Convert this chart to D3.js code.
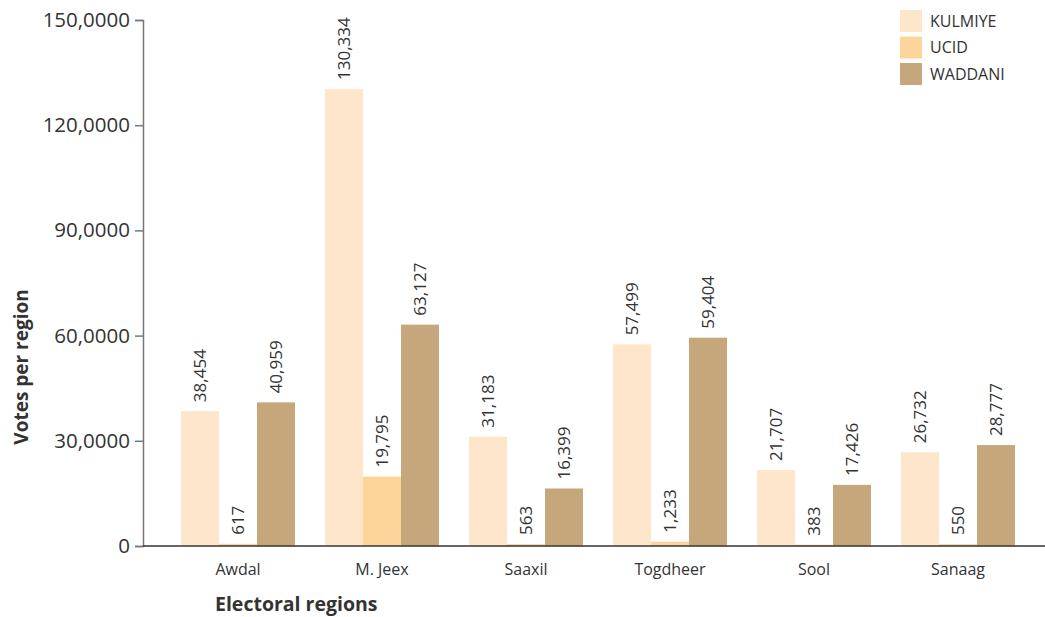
<!DOCTYPE html>
<html>
<head>
<meta charset="utf-8">
<script src="https://cdn.jsdelivr.net/npm/d3@7"></script>
<style>
  body { margin: 0; background: #fff; }
  text { font-family: "Open Sans", "Noto Sans", sans-serif; fill: #333; }
</style>
</head>
<body>
<div id="chart"></div>
<script>
// Data
var regions = ["Awdal", "M. Jeex", "Saaxil", "Togdheer", "Sool", "Sanaag"]
var parties = ["KULMIYE", "UCID", "WADDANI"]
var kulmiye = [38454, 130334, 31183, 57499, 21707, 26732]
var ucid = [617, 19795, 563, 1233, 383, 550]
var waddani = [40959, 63127, 16399, 59404, 17426, 28777]
var yTicks = [0, 30000, 60000, 90000, 120000, 150000]
var yTickLabels = ["0", "30,0000", "60,0000", "90,0000", "120,0000", "150,0000"]

var seriesValues = { "KULMIYE": kulmiye, "UCID": ucid, "WADDANI": waddani }

var width = 1045, height = 617

var svg = d3.select("#chart")
    .append("svg")
    .attr("width", width)
    .attr("height", height)

// ----------------- //
// Scales
// ----------------- //
var x0 = d3.scaleBand()
    .domain(regions)
    .range([166, 1030])
    .paddingInner(0.2083)
    .paddingOuter(0.10415)

var x1 = d3.scaleBand()
    .domain(parties)
    .range([0, x0.bandwidth()])

var y = d3.scaleLinear()
    .domain([0, 150000])
    .range([546, 20])

var color = d3.scaleOrdinal()
    .domain(parties)
    .range(["#fde6c9", "#fdd59b", "#c6a67b"])

// ----------------- //
// Bars
// ----------------- //
var groups = svg.selectAll("g.region")
    .data(regions)
    .enter()
    .append("g")
    .attr("class", "region")
    .attr("transform", function(d) { return "translate(" + x0(d) + ",0)" })

groups.selectAll("rect")
    .data(function(r, i) { return parties.map(function(p) { return { party: p, value: seriesValues[p][i] } }) })
    .enter()
    .append("rect")
    .attr("x", function(d) { return x1(d.party) })
    .attr("y", function(d) { return y(d.value) })
    .attr("width", x1.bandwidth())
    .attr("height", function(d) { return y(0) - y(d.value) })
    .attr("fill", function(d) { return color(d.party) })

// value labels, rotated
groups.selectAll("text.val")
    .data(function(r, i) { return parties.map(function(p) { return { party: p, value: seriesValues[p][i] } }) })
    .enter()
    .append("text")
    .attr("class", "val")
    .attr("transform", function(d) {
        return "translate(" + (x1(d.party) + x1.bandwidth() / 2) + "," + (y(d.value) - 9) + ") rotate(-90)"
    })
    .attr("dy", "0.36em")
    .attr("text-anchor", "start")
    .attr("font-size", "17px")
    .text(function(d) { return d3.format(",")(d.value) })

// ----------------- //
// Axes
// ----------------- //
var yAxis = svg.append("g")
    .attr("transform", "translate(143,0)")
    .call(d3.axisLeft(y).tickValues(yTicks).tickSize(8).tickPadding(5)
        .tickFormat(function(d, i) { return yTickLabels[i] }))
yAxis.select(".domain").attr("stroke", "#777").attr("stroke-width", 1.5)
yAxis.selectAll(".tick line").attr("stroke", "#777").attr("stroke-width", 1.5)
yAxis.selectAll(".tick text").attr("font-size", "20.5px").attr("fill", "#333")
    .style("font-family", "'Open Sans', sans-serif")

var xAxis = svg.append("g")
    .attr("transform", "translate(0,546)")
xAxis.append("line")
    .attr("x1", 143).attr("x2", 1045)
    .attr("stroke", "#333").attr("stroke-width", 1.5)
xAxis.selectAll("text")
    .data(regions)
    .enter()
    .append("text")
    .attr("x", function(d) { return x0(d) + x0.bandwidth() / 2 })
    .attr("y", 29)
    .attr("text-anchor", "middle")
    .attr("font-size", "16px")
    .text(function(d) { return d })

// axis titles
svg.append("text")
    .attr("transform", "translate(28,367) rotate(-90)")
    .attr("text-anchor", "middle")
    .attr("font-size", "19px")
    .attr("font-weight", "bold")
    .text("Votes per region")

svg.append("text")
    .attr("x", 215)
    .attr("y", 611)
    .attr("font-size", "19.5px")
    .attr("font-weight", "bold")
    .text("Electoral regions")

// ----------------- //
// Legend
// ----------------- //
var legend = svg.selectAll("g.legend")
    .data(parties)
    .enter()
    .append("g")
    .attr("class", "legend")
    .attr("transform", function(d, i) { return "translate(900," + (10 + i * 26.5) + ")" })
legend.append("rect")
    .attr("width", 22)
    .attr("height", 22)
    .attr("fill", function(d) { return color(d) })
legend.append("text")
    .attr("x", 30)
    .attr("y", 11)
    .attr("dy", "0.36em")
    .attr("font-size", "16px")
    .text(function(d) { return d })
</script>
</body>
</html>
